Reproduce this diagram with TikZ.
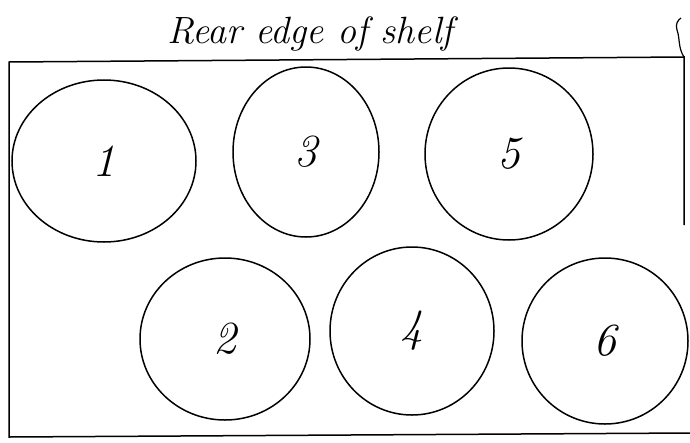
\documentclass[tikz,border=0pt]{standalone}
\usetikzlibrary{shapes.geometric}
\tikzset{
jar/.style={draw, shape=ellipse, line width=1.5pt, inner sep=0pt,
  font=\fontsize{46}{52}\selectfont\itshape},
}

\begin{document}
\begin{tikzpicture}[x=1pt, y=-1pt]
\useasboundingbox (0,0) rectangle (690,442);
\node[font=\fontsize{38}{44}\selectfont\itshape] (T) at (310,34) {Rear edge of shelf};

\node[jar, minimum width=184pt, minimum height=162pt] (C1) at (104,161) {1};
\node[jar, minimum width=146pt, minimum height=170pt] (C3) at (306,152) {3};
\node[jar, minimum width=168pt, minimum height=172pt] (C5) at (509,154) {5};
\node[jar, minimum width=170pt, minimum height=162pt] (C2) at (225,339) {2};
\node[jar, minimum width=164pt, minimum height=168pt] (C4) at (412,331) {4};
\node[jar, minimum width=166pt, minimum height=166pt] (C6) at (605,341) {6};

% shelf outline
\draw[line width=1.5pt] (684,225) -- (684,57) -- (9,62) -- (9,437) -- (690,433);
\draw[line width=1.2pt] (684,57) .. controls (678,48) and (680,38) .. (677,30)
  .. controls (675,24) and (678,20) .. (681,18);
\end{tikzpicture}
\end{document}
